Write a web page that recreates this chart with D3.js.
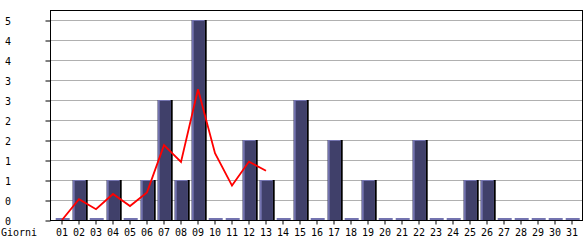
<!DOCTYPE html>
<html><head><meta charset="utf-8">
<script src="https://cdn.jsdelivr.net/npm/d3@7"></script>
<style>body{margin:0;background:#fff}svg{display:block}text{font-family:"DejaVu Sans Mono",monospace;font-size:10px;fill:#000}</style>
</head><body>
<svg id="c" width="585" height="240"></svg>
<script>
const days = ["01","02","03","04","05","06","07","08","09","10","11","12","13","14","15","16","17","18","19","20","21","22","23","24","25","26","27","28","29","30","31"];
const counts = [0,1,0,1,0,1,3,1,5,0,0,2,1,0,3,0,2,0,1,0,0,2,0,0,1,1,0,0,0,0,0];
const trendDays = ["01","02","03","04","05","06","07","08","09","10","11","12","13"];
const trendValues = [0,0.52,0.27,0.65,0.35,0.69,1.87,1.45,3.27,1.67,0.86,1.46,1.23];
const yTicks = [0,0.5,1,1.5,2,2.5,3,3.5,4,4.5,5];
const xTitle = "Giorni";

const svg = d3.select("#c");
const L=50, R=582, T=10, B=220;
const x = d3.scaleBand().domain(days).range([53.5, 53.5+17*31]).padding(0);
const y = d3.scaleLinear().domain([0,5]).range([B, 20]);
const cx = d => x(d)+8.5;

// gridlines
svg.append("g").selectAll("line").data(yTicks.filter(v=>v>0)).join("line")
  .attr("x1",L).attr("x2",R).attr("y1",d=>y(d)+0.5).attr("y2",d=>y(d)+0.5)
  .attr("stroke","#b0b0b0").attr("stroke-width",1);

// bars
const bars = svg.append("g").selectAll("g").data(days.map((d,i)=>({d,v:counts[i]}))).join("g");
bars.each(function(p){
  const g = d3.select(this);
  const x0 = x(p.d)+2.2, w = 15;
  if(p.v>0){
    const yt = y(p.v);
    g.append("rect").attr("x",x0).attr("y",yt).attr("width",w).attr("height",B-yt).attr("fill","#000");
    g.append("rect").attr("x",x0).attr("y",yt).attr("width",w-2).attr("height",B-yt).attr("fill","#7474b0");
    g.append("rect").attr("x",x0+2).attr("y",yt+1).attr("width",w-4).attr("height",B-yt-1).attr("fill","#40406a");
  } else {
    g.append("rect").attr("x",x0).attr("y",B-2).attr("width",w-1).attr("height",2).attr("fill","#7474b0");
  }
});

// trend line
svg.append("path").datum(trendDays.map((d,i)=>[cx(d), y(trendValues[i])]))
  .attr("d", d3.line()).attr("fill","none").attr("stroke","#ff0000").attr("stroke-width",1.8);

// frame
svg.append("rect").attr("x",L+0.5).attr("y",T+0.5).attr("width",R-L).attr("height",B-T)
  .attr("fill","none").attr("stroke","#000").attr("stroke-width",1);

// y axis
const yAxis = d3.axisLeft(y).tickValues(yTicks).tickFormat(v=>String(Math.floor(v))).tickSize(5).tickPadding(0);
const ya = svg.append("g").attr("transform",`translate(${L+0.5},0.5)`).call(yAxis);
ya.select(".domain").remove();
ya.selectAll("line").attr("stroke","#000");
ya.selectAll("text").attr("x",-45.5).attr("text-anchor","start").attr("dy","0.35em").style("font-family","DejaVu Sans Mono").style("font-size","10px");

// x axis
const xAxis = d3.axisBottom(x).tickSize(4).tickPadding(2);
const xa = svg.append("g").attr("transform",`translate(0,${B+0.5})`).call(xAxis);
xa.select(".domain").remove();
xa.selectAll(".tick").attr("transform", d=>`translate(${cx(d)},0)`);
xa.selectAll("line").attr("stroke","#000");
xa.selectAll("text").attr("y",15.5).attr("dy",0).style("font-family","DejaVu Sans Mono").style("font-size","10px");

svg.append("text").attr("x",1).attr("y",236).text(xTitle);
</script>
</body></html>
